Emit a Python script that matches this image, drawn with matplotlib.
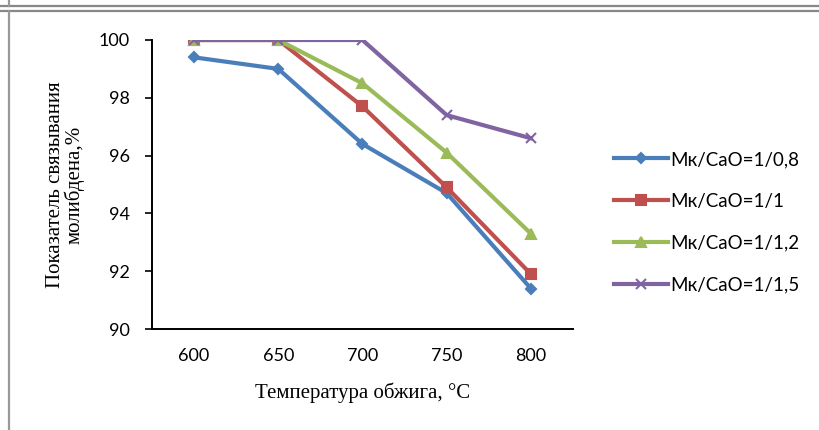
import matplotlib; matplotlib.use("Agg")
import matplotlib.pyplot as plt
from matplotlib.lines import Line2D

temps = ["600", "650", "700", "750", "800"]
ratio_08 = [99.4, 99.0, 96.4, 94.7, 91.4]
ratio_10 = [100, 100, 97.7, 94.9, 91.9]
ratio_12 = [100, 100, 98.5, 96.1, 93.3]
ratio_15 = [100, 100, 100, 97.4, 96.6]
labels = ["Мк/CaO=1/0,8", "Мк/CaO=1/1", "Мк/CaO=1/1,2", "Мк/CaO=1/1,5"]
y_ticks = [90, 92, 94, 96, 98, 100]

TICK_FONT = ["Lato", "DejaVu Sans"]
SERIF = ["Liberation Serif", "DejaVu Serif"]

fig = plt.figure(figsize=(8.2, 4.3), dpi=100)
ax = fig.add_axes([152 / 820, 1 - 329 / 430, (573 - 152) / 820, (329 - 40) / 430])

x = list(range(len(temps)))
styles = [("#4A7EBB", "D", 5.5), ("#C0504D", "s", 7.5), ("#9BBB59", "^", 7.5), ("#8064A2", "x", 6.5)]
for ys, lab, (col, mk, ms) in zip([ratio_08, ratio_10, ratio_12, ratio_15], labels, styles):
    ax.plot(x, ys, color=col, lw=3.0, marker=mk, ms=ms, mew=1.5, label=lab)

ax.set_xlim(-0.5, len(temps) - 0.5)
ax.set_ylim(90, 100)
ax.set_xticks(x)
ax.set_xticklabels(temps, fontfamily=TICK_FONT, fontsize=13)
ax.set_yticks(y_ticks)
ax.set_yticklabels([str(v) for v in y_ticks], fontfamily=TICK_FONT, fontsize=13)
ax.tick_params(axis="x", length=0, pad=14)
ax.tick_params(axis="y", length=5, width=1.2, pad=11)
for s in ("top", "right"):
    ax.spines[s].set_visible(False)
for s in ("left", "bottom"):
    ax.spines[s].set_linewidth(1.4)

ax.set_xlabel("Температура обжига, °C", fontfamily=SERIF, fontsize=15, labelpad=13)
ax.set_ylabel("Показатель связывания\nмолибдена,%", fontfamily=SERIF, fontsize=15,
              labelpad=10, linespacing=0.95)

leg = fig.legend(loc="center left", bbox_to_anchor=(597 / 820, 1 - 222 / 430), frameon=False,
                 prop={"family": TICK_FONT, "size": 13.5}, handlelength=2.9, handletextpad=0.1,
                 labelspacing=1.32)

# frame lines of the surrounding document box
fig.add_artist(Line2D([0, 1], [1 - 6 / 430] * 2, color="#888888", lw=1.6))
fig.add_artist(Line2D([0, 1], [1 - 10.5 / 430] * 2, color="#888888", lw=1.6))
fig.add_artist(Line2D([8.5 / 820] * 2, [0, 1 - 10.5 / 430], color="#999999", lw=1.6))
fig.add_artist(Line2D([8.5 / 820] * 2, [1 - 6 / 430, 1], color="#999999", lw=1.6))

fig.savefig("out.png", dpi=100)
